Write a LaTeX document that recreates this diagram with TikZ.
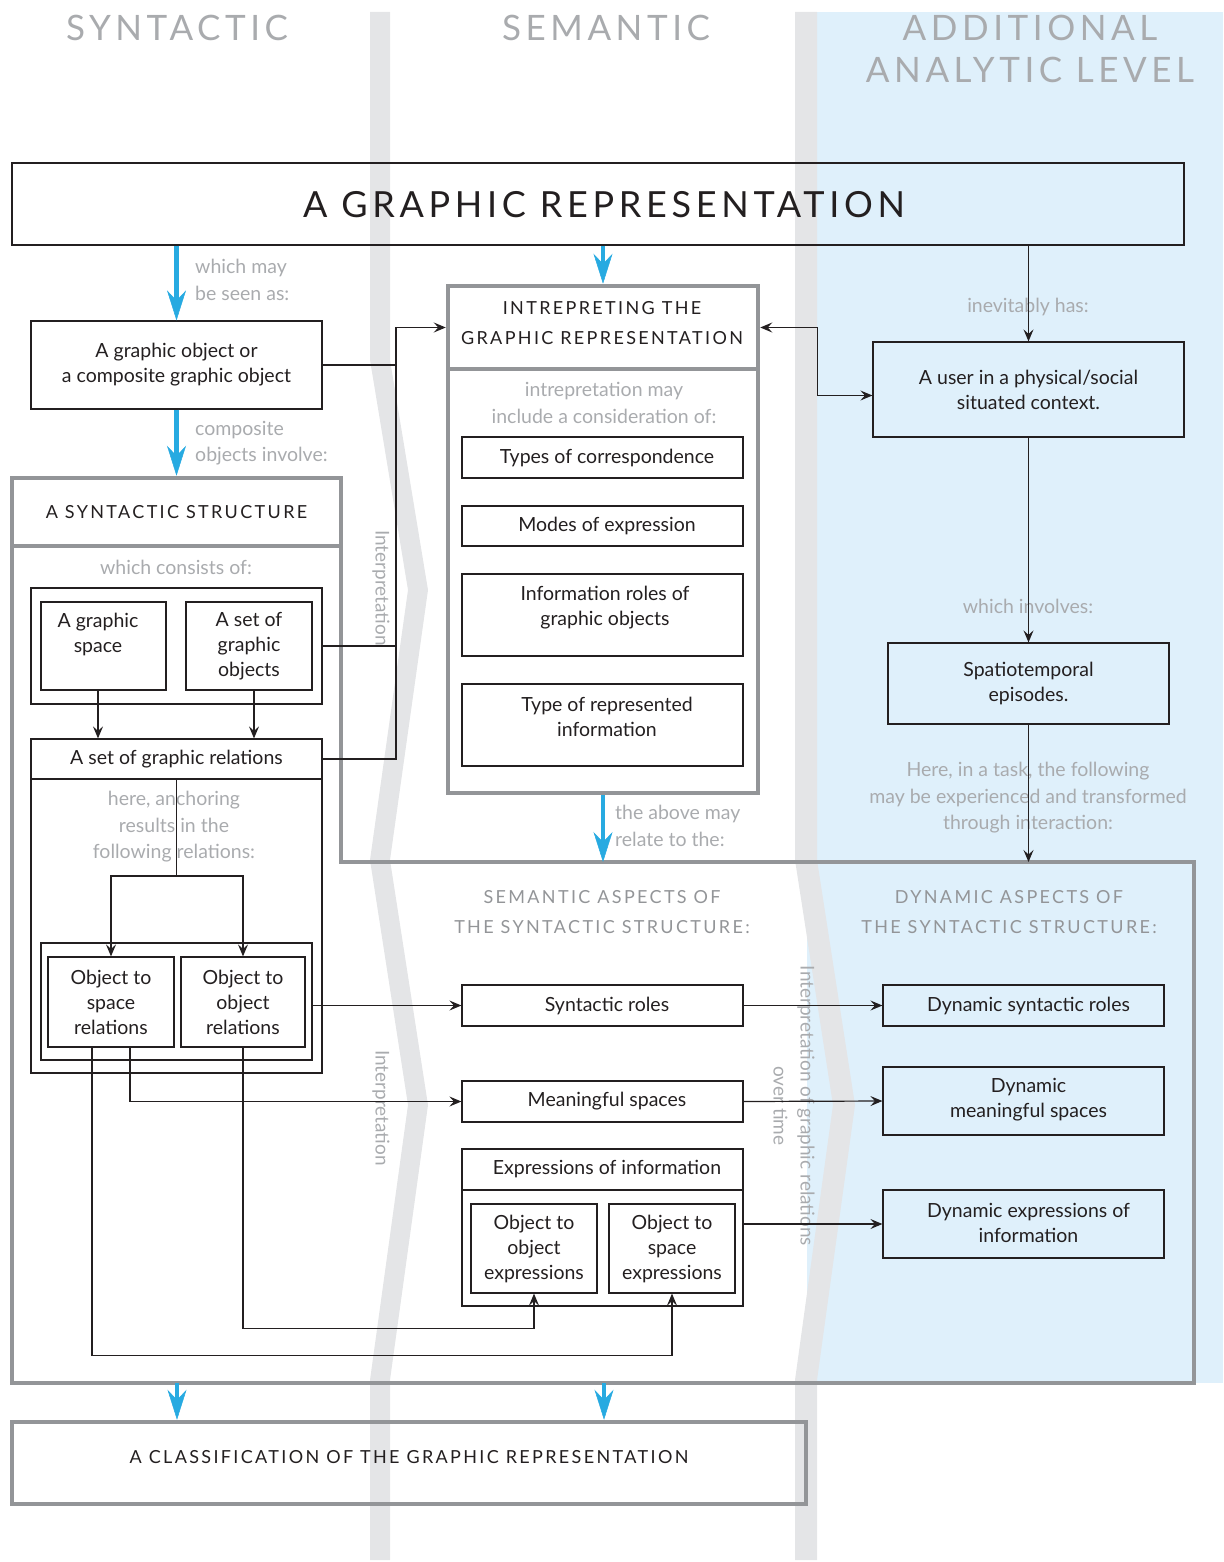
\documentclass[tikz,border=0pt]{standalone}
\usepackage{fontspec}
\setmainfont{Lato}
\newfontfamily\spc[LetterSpace=13]{Lato}
\usetikzlibrary{arrows.meta,calc}
\definecolor{bandgrey}{HTML}{E4E5E7}
\definecolor{lightblue}{HTML}{DFF0FB}
\definecolor{frame}{HTML}{939598}
\definecolor{lblgrey}{HTML}{A9ABAE}
\definecolor{arrowblue}{HTML}{27AAE1}
\definecolor{ink}{HTML}{231F20}
\begin{document}
\begin{tikzpicture}[x=1pt,y=-1pt, line join=miter,
 body/.style={font=\fontsize{19.5}{25}\selectfont, text=ink, align=center, inner sep=0pt},
 lbl/.style={font=\fontsize{19.5}{26.5}\selectfont, text=lblgrey, align=center, inner sep=0pt},
 thin/.style={draw=ink, line width=1.2pt, inner sep=0pt, body},
 thick/.style={draw=frame, line width=4.5pt, inner sep=0pt},
 capsB/.style={font=\spc\fontsize{18}{30}\selectfont, text=ink, align=center, inner sep=0pt},
 capsG/.style={capsB, text=frame},
 head/.style={font=\spc\fontsize{35}{42}\selectfont, text=lblgrey, align=center, inner sep=0pt},
 rot/.style={lbl, font=\fontsize{19}{27}\selectfont, rotate=-90},
 arr/.style={draw=ink, line width=1.2pt, -{Stealth[length=12pt,width=10pt,inset=4.5pt]}},
 arrb/.style={draw=ink, line width=1.2pt, {Stealth[length=12pt,width=10pt,inset=4.5pt]}-{Stealth[length=12pt,width=10pt,inset=4.5pt]}},
 barr/.style={draw=arrowblue, line width=4.5pt, -{Stealth[length=30pt,width=19pt,inset=10pt,line width=0.5pt]}},
 ln/.style={draw=ink, line width=1.2pt},
]
\useasboundingbox (0,0) rectangle (1223,1562);
% background
\fill[lightblue] (807,12) rectangle (1223,1383);
\fill[bandgrey] (370,12) -- (370,360) -- (408,590) -- (370,860) -- (408,1105) -- (370,1380) -- (370,1560)
  -- (390,1560) -- (390,1380) -- (428,1105) -- (390,860) -- (428,590) -- (390,360) -- (390,12) -- cycle;
\fill[bandgrey] (795,12) -- (795,860) -- (833,1105) -- (795,1380) -- (795,1560)
  -- (817,1560) -- (817,1380) -- (855,1105) -- (817,860) -- (817,12) -- cycle;

% column headings
\node[head] (hsyn) at (177,28) {SYNTACTIC};
\node[head] (hsem) at (606,28) {SEMANTIC};
\node[head] (hadd) at (1030,49) {ADDITIONAL\\ANALYTIC LEVEL};

% main box
\node[thin, minimum width=1172pt, minimum height=82pt] (main) at (598,204) {};
\node[font=\spc\fontsize{36}{42}\selectfont, text=ink, inner sep=0pt] (maint) at (604,205) {A GRAPHIC REPRESENTATION};

% syntactic column
\node[thin, minimum width=291pt, minimum height=88pt] (gobj) at (176.5,365) {A graphic object or\\a composite graphic object};
\node[thick, minimum width=329pt, minimum height=68pt, capsB] (synhead) at (176.5,512) {A SYNTACTIC STRUCTURE};
\draw[frame, line width=4.5pt] (12,546) -- (12,1383) -- (1194,1383) -- (1194,862) -- (341,862) -- (341,546);
\node[lbl] (consists) at (176,567) {which consists of:};
\node[thin, minimum width=291pt, minimum height=116pt] (grp) at (176.5,646) {};
\node[thin, minimum width=125pt, minimum height=88pt] (gspace) at (103.5,646) {};
\node[body] (gspacet) at (98,634.5) {A graphic\\space};
\node[thin, minimum width=126pt, minimum height=88pt] (gobjs) at (249,646) {A set of\\graphic\\objects};
\node[thin, minimum width=291pt, minimum height=40pt] (relhead) at (176.5,759) {A set of graphic relations};
\node[thin, minimum width=291pt, minimum height=294pt] (relbody) at (176.5,926) {};
\node[lbl] (anchtxt) at (174,827) {here, anchoring\\results in the\\following relations:};
\node[thin, minimum width=271pt, minimum height=117pt] (ograp) at (176.5,1001.5) {};
\node[thin, minimum width=126pt, minimum height=90pt] (osr) at (111,1002) {Object to\\space\\relations};
\node[thin, minimum width=124pt, minimum height=90pt] (oor) at (243,1002) {Object to\\object\\relations};

% semantic column
\node[thick, minimum width=310pt, minimum height=83pt] (interp) at (603,327.5) {};
\node[capsB] (interpt) at (602,323) {INTREPRETING THE\\GRAPHIC REPRESENTATION};
\node[thick, minimum width=310pt, minimum height=424pt] (interpbody) at (603,581) {};
\node[lbl] (inclt) at (604,403) {intrepretation may\\include a consideration of:};
\node[thin, minimum width=281pt, minimum height=41pt] (types) at (602.5,457.5) {};
\node[body] (typest) at (607,458) {Types of correspondence};
\node[thin, minimum width=281pt, minimum height=40pt] (modes) at (602.5,526) {};
\node[body] (modest) at (607,526) {Modes of expression};
\node[thin, minimum width=281pt, minimum height=82pt] (inforoles) at (602.5,615) {};
\node[body] (inforolest) at (605,607.5) {Information roles of\\graphic objects};
\node[thin, minimum width=281pt, minimum height=82pt] (reptype) at (602.5,725) {};
\node[body] (reptypet) at (607,716.5) {Type of represented\\information};

\node[capsG] (semasp) at (602,912) {SEMANTIC ASPECTS OF\\THE SYNTACTIC STRUCTURE:};
\node[thin, minimum width=281pt, minimum height=41pt] (synroles) at (602.5,1005.5) {};
\node[body] (synrolest) at (607,1005.5) {Syntactic roles};
\node[thin, minimum width=281pt, minimum height=41pt] (mspaces) at (602.5,1101.5) {};
\node[body] (mspacest) at (607,1101.5) {Meaningful spaces};
\node[thin, minimum width=281pt, minimum height=41pt] (exprhead) at (602.5,1169.5) {};
\node[body] (exprheadt) at (607,1169.5) {Expressions of information};
\node[thin, minimum width=281pt, minimum height=116pt] (exprbody) at (602.5,1248) {};
\node[thin, minimum width=126pt, minimum height=89pt] (o2oe) at (534,1248.5) {Object to\\object\\expressions};
\node[thin, minimum width=126pt, minimum height=89pt] (o2se) at (672,1248.5) {Object to\\space\\expressions};

% additional column
\node[lbl] (inevit) at (1028,307) {inevitably has:};
\node[thin, minimum width=311pt, minimum height=95pt] (user) at (1028.5,389.5) {A user in a physical/social\\situated context.};
\node[lbl] (involves) at (1028,606) {which involves:};
\node[thin, minimum width=281pt, minimum height=81pt] (spatio) at (1028.5,683.5) {Spatiotemporal\\episodes.};
\node[lbl] (task) at (1028,798) {Here, in a task, the following\\may be experienced and transformed\\through interaction:};
\node[capsG] (dynasp) at (1009,912) {DYNAMIC ASPECTS OF\\THE SYNTACTIC STRUCTURE:};
\node[thin, minimum width=281pt, minimum height=41pt] (dsr) at (1023.5,1005.5) {};
\node[body] (dsrt) at (1028.5,1005.5) {Dynamic syntactic roles};
\node[thin, minimum width=281pt, minimum height=68pt] (dms) at (1023.5,1101) {};
\node[body] (dmst) at (1028.5,1100) {Dynamic\\meaningful spaces};
\node[thin, minimum width=281pt, minimum height=68pt] (dexp) at (1023.5,1224) {};
\node[body] (dexpt) at (1028.5,1223) {Dynamic expressions of\\information};

% bottom
\node[thick, minimum width=794pt, minimum height=82pt] (classif) at (409,1463) {};
\node[capsB] (classift) at (409,1457) {A CLASSIFICATION OF THE GRAPHIC REPRESENTATION};

% rotated labels
\node[rot] (int1) at (381,588) {Interpretation};
\node[rot] (int2) at (381,1108) {Interpretation};
\node[rot] (int3) at (794,1106) {Interpretation of graphic relations\\over time};

% blue label texts
\node[lbl, align=left, anchor=west] (seenas) at (195,280) {which may\\be seen as:};
\node[lbl, align=left, anchor=west] (involve) at (195,443) {composite\\objects involve:};
\node[lbl, align=left, anchor=west] (relate) at (615,826) {the above may\\relate to the:};

% coordinates
\coordinate (jx) at (396,327.5);
\coordinate (semTop) at (603,862);
\coordinate (dynTop) at (1028.5,862);
\coordinate (synB1) at (177,1383);
\coordinate (synB2) at (604,1383);
\coordinate (anch) at (176.5,876);

% blue arrows
\draw[barr] (gobj.north |- main.south) -- (gobj.north);
\draw[barr] (interp.north |- main.south) -- (interp.north);
\draw[barr] (gobj.south) -- (synhead.north);
\draw[barr] (interpbody.south) -- (semTop);
\draw[barr] (synB1) -- (synB1 |- classif.north);
\draw[barr] (synB2) -- (synB2 |- classif.north);

% black connectors
\draw[ln] (gobj.east) -- (gobj.east -| jx);
\draw[ln] (grp.east) -- (grp.east -| jx);
\draw[arr] (relhead.east) -| (jx) -- (interp.west);
\draw[arrb] (interp.east) -- ++(57,0) |- ([yshift=-6pt]user.west);
\draw[arr] (main.south -| user.north) -- (user.north);
\draw[arr] (user.south) -- (spatio.north);
\draw[arr] (spatio.south) -- (dynTop);
\draw[arr] ([xshift=-5.5pt]gspace.south) -- ([xshift=-5.5pt]gspace.south |- relhead.north);
\draw[arr] ([xshift=5pt]gobjs.south) -- ([xshift=5pt]gobjs.south |- relhead.north);
\draw[ln] (relbody.north) -- (anch);
\draw[arr] (anch) -| (osr.north);
\draw[arr] (anch) -| (oor.north);
\draw[arr] (ograp.east |- synroles.west) -- (synroles.west);
\draw[arr] ([xshift=19pt]osr.south) |- (mspaces.west);
\draw[arr] ([xshift=-19pt]osr.south) |- ($(o2se.south)+(0,62)$) -- (o2se.south);
\draw[arr] (oor.south) |- ($(o2oe.south)+(0,35)$) -- (o2oe.south);
\draw[arr] (synroles.east) -- (dsr.west);
\draw[arr] (mspaces.east) -- (dms.west);
\draw[arr] (exprbody.east |- dexp.west) -- (dexp.west);
\end{tikzpicture}
\end{document}
